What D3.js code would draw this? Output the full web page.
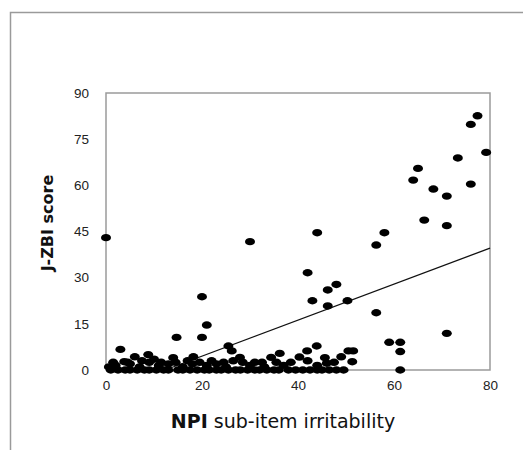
<!DOCTYPE html>
<html>
<head>
<meta charset="utf-8">
<script src="https://cdn.jsdelivr.net/npm/d3@7"></script>
<style>
  html, body { margin: 0; padding: 0; background: #fff; }
  svg { display: block; font-family: "DejaVu Sans", Verdana, sans-serif; }
</style>
</head>
<body>
<div id="chart"></div>
<script>
// NPI sub-item irritability (x) vs J-ZBI score (y)
const npiIrritability = [
  0, 30, 44, 58, 56.3, 42, 48, 46.2, 43, 50.3, 46.2, 56.3, 59, 61.3, 61.3, 61.3, 71,
  77.4, 76, 79.2, 73.3, 65, 64, 68.2, 71, 76, 66.3, 71,
  20, 21, 20, 14.7, 3, 0.6, 25.5, 26.2, 43.9, 41.9, 36.2, 50.5, 51.5, 51.3, 46, 45.6, 49, 40.3, 34.4, 27.9,
  // dense group near zero
  1, 2.5, 4, 5, 6.5, 8, 9, 10.5, 12, 13, 15, 16, 17.5, 19, 20.5, 21.5, 23, 24, 25.5, 27, 28, 29.5,
  31, 32, 33.5, 35, 36, 38, 39.5, 41, 42.5, 44, 45, 46.5, 48, 49.5,
  2, 5, 7, 9, 11, 13, 16, 18, 21, 23, 25, 30, 33, 37, 44,
  3.8, 6, 8.8, 10, 14, 18.2, 22, 31,
  1.5, 4.5, 7.5, 11.5, 14.5, 17, 19.5, 24.5, 26.5, 28.5, 32.5, 35.5, 38.5, 42, 47.5
];
const jzbiScore = [
  43, 41.7, 44.6, 44.6, 40.6, 31.6, 27.8, 26, 22.5, 22.5, 20.8, 18.6, 9, 9, 6, 0, 11.9,
  82.6, 79.8, 70.7, 68.9, 65.5, 61.7, 58.8, 56.5, 60.4, 48.7, 46.9,
  23.8, 14.6, 10.6, 10.6, 6.7, 1, 7.8, 6.2, 7.8, 6.2, 5.4, 6.2, 6.2, 2.7, 2.2, 4, 4.3, 4.2, 4.1, 4.1,
  0, 0, 0, 0, 0, 0, 0, 0, 0, 0, 0, 0, 0, 0, 0, 0, 0, 0, 0, 0, 0, 0,
  0, 0, 0, 0, 0, 0, 0, 0, 0, 0, 0, 0, 0, 0,
  1.5, 2, 1, 2.5, 1.5, 2, 1, 2, 1.5, 2, 1, 1.5, 1, 1.5, 1.5,
  2.7, 4.3, 5, 3.5, 4, 4.3, 3, 2.5,
  2.5, 2.5, 3, 2.5, 2.5, 3, 2.5, 2.5, 3, 2.5, 2.5, 2.5, 2.5, 3, 2.5
];
const xTicks = [0, 20, 40, 60, 80];
const yTicks = [0, 15, 30, 45, 60, 75, 90];
// linear trend line: score = trendIntercept + trendSlope * npi
const trendIntercept = -7.2;
const trendSlope = 0.585;

const W = 523, H = 450;
const margin = { top: 93, right: 33, bottom: 80, left: 106 };
const width = W - margin.left - margin.right;
const height = H - margin.top - margin.bottom;

const svg = d3.select("#chart").append("svg")
  .attr("width", W).attr("height", H);

// outer frame
svg.append("rect")
  .attr("x", 10.5).attr("y", 12.5)
  .attr("width", 700).attr("height", 700)
  .attr("fill", "none").attr("stroke", "#9a9a9a").attr("stroke-width", 1.5);

const g = svg.append("g").attr("transform", `translate(${margin.left},${margin.top})`);

const x = d3.scaleLinear().domain([0, 80]).range([0, width]);
const y = d3.scaleLinear().domain([0, 90]).range([height, 0]);

// plot frame
g.append("rect")
  .attr("x", 0).attr("y", 0).attr("width", width).attr("height", height)
  .attr("fill", "none").attr("stroke", "#9a9a9a").attr("stroke-width", 1.5);

const xAxis = g.append("g")
  .attr("transform", `translate(0,${height})`)
  .call(d3.axisBottom(x).tickValues(xTicks).tickSize(0).tickPadding(10));
xAxis.select(".domain").remove();
xAxis.selectAll("text").style("font-size", "13.5px").attr("fill", "#222");

const yAxis = g.append("g")
  .call(d3.axisLeft(y).tickValues(yTicks).tickSize(0).tickPadding(17));
yAxis.select(".domain").remove();
yAxis.selectAll("text").style("font-size", "13.5px").attr("fill", "#222");

// trend line, clipped to y >= 0
const xStart = Math.max(0, -trendIntercept / trendSlope);
g.append("line")
  .attr("x1", x(xStart)).attr("y1", y(trendIntercept + trendSlope * xStart))
  .attr("x2", x(80)).attr("y2", y(trendIntercept + trendSlope * 80))
  .attr("stroke", "#111").attr("stroke-width", 1.3);

const pts = npiIrritability.map((v, i) => ({ npi: v, score: jzbiScore[i] }));
g.selectAll(".dot")
  .data(pts)
  .join("ellipse")
  .attr("class", "dot")
  .attr("cx", d => x(d.npi))
  .attr("cy", d => y(d.score))
  .attr("rx", 5).attr("ry", 3.7)
  .attr("fill", "#000");

// axis titles
svg.append("text")
  .attr("transform", "translate(53,223) rotate(-90)")
  .attr("text-anchor", "middle")
  .style("font-size", "16px").style("font-weight", "bold").attr("fill", "#111")
  .text("J-ZBI score");

const xt = svg.append("text")
  .attr("x", 283).attr("y", 428)
  .attr("text-anchor", "middle")
  .style("font-size", "19px").attr("fill", "#111");
xt.append("tspan").style("font-weight", "bold").text("NPI");
xt.append("tspan").text(" sub-item irritability");
</script>
</body>
</html>
